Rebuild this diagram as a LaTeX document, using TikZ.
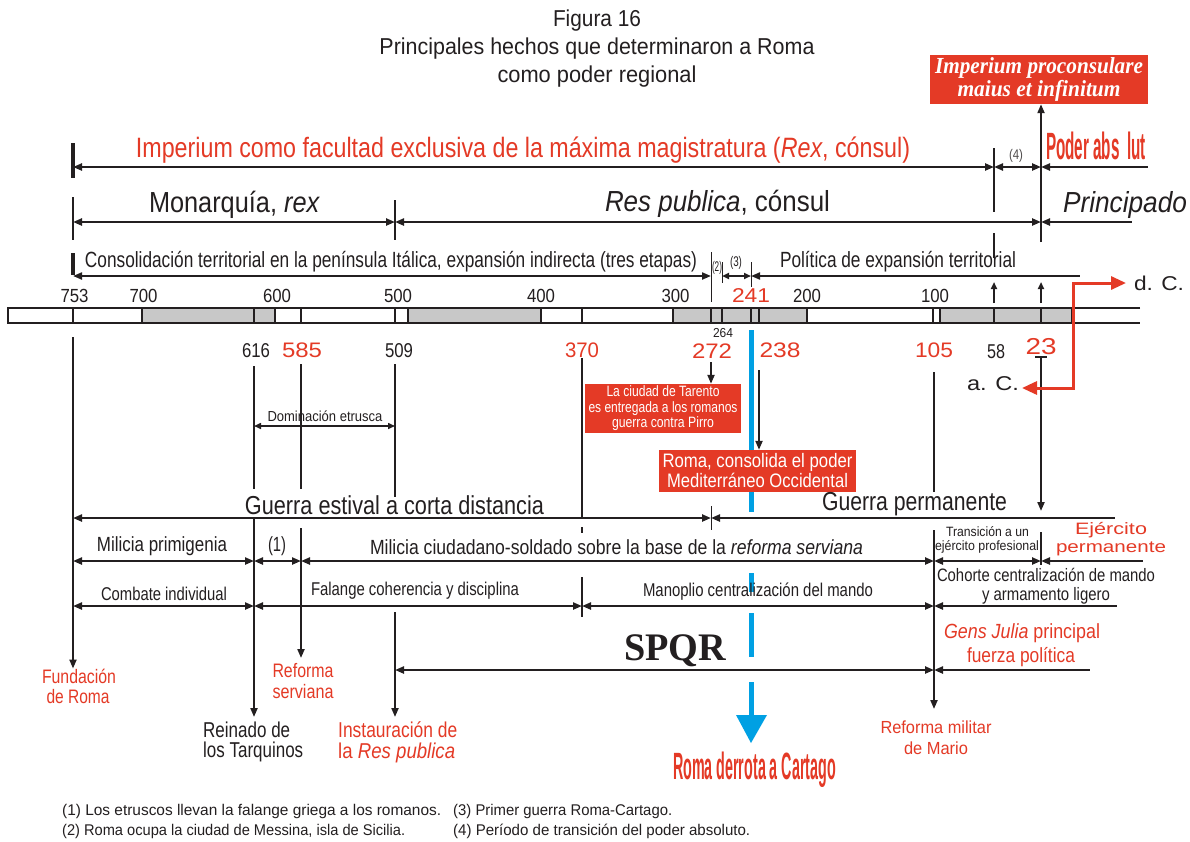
\documentclass[tikz,border=0pt]{standalone}
\usepackage{fontspec}
\usepackage{graphicx}
\setmainfont{Liberation Sans}
\newfontfamily\serfont{Liberation Serif}
\newfontfamily\widefont[FakeStretch=1.25]{Liberation Sans}
\usetikzlibrary{arrows.meta,calc}
\definecolor{rd}{RGB}{228,58,38}
\definecolor{ink}{RGB}{35,31,32}
\definecolor{bl}{RGB}{0,160,227}
\definecolor{gry}{RGB}{200,200,200}
\newcommand\fsz[2]{\fontsize{#1}{#2}\selectfont}
\newcommand\fitw[2]{\resizebox{#1pt}{\height}{#2}}
\begin{document}
\begin{tikzpicture}[x=1pt,y=-1pt,
  hl/.style={draw=ink,line width=2.2pt},
  vl/.style={draw=ink,line width=2pt},
  tn/.style={draw=ink,line width=1.2pt},
  >={Triangle[length=9pt,width=7pt]},
  sm/.style={>={Triangle[length=7pt,width=6pt]}},
  lab/.style={text=ink,inner sep=0pt},
  rl/.style={text=rd,inner sep=0pt},
  redbox/.style={fill=rd,text=white,inner sep=0pt,align=center}]
\useasboundingbox (0,0) rectangle (1190,841);
\fill[white] (0,0) rectangle (1190,841);
% columns and rows
\coordinate (X753) at (73,0);
\coordinate (X616) at (254,0);
\coordinate (X585) at (301,0);
\coordinate (X509) at (395,0);
\coordinate (X370) at (582,0);
\coordinate (X272) at (711,0);
\coordinate (X264) at (722,0);
\coordinate (X241) at (751,0);
\coordinate (X238) at (759,0);
\coordinate (X105) at (934,0);
\coordinate (X58) at (994,0);
\coordinate (X23) at (1041,0);
\coordinate (R1) at (0,167);
\coordinate (R2) at (0,222);
\coordinate (R3) at (0,276);
\coordinate (RD) at (0,426);
\coordinate (RG) at (0,518);
\coordinate (RM) at (0,561);
\coordinate (RC) at (0,606);
\coordinate (RS) at (0,670);
\coordinate (E1) at (1148,167);
\coordinate (E2) at (1132,222);
\coordinate (E3) at (1080,276);
\coordinate (EG) at (1115,518);
\coordinate (EM) at (1143,561);
\coordinate (EC) at (1117,606);
\coordinate (ES) at (1090,670);

% title
\node[lab,font=\fsz{23}{28}] (ti1) at (597,21) {\fitw{88}{Figura 16}};
\node[lab,font=\fsz{23}{28}] (ti2) at (597,49) {\fitw{435}{Principales hechos que determinaron a Roma}};
\node[lab,font=\fsz{23}{28}] (ti3) at (597,77) {\fitw{199}{como poder regional}};

% imperium box
\node[redbox,minimum width=218pt,minimum height=49pt,font=\serfont\bfseries\itshape\fsz{23}{19}] (imp) at (1039,79.5)
  {\fitw{208}{Imperium proconsulare}\\\fitw{163}{maius et infinitum}};
\coordinate (V23b) at (1041,242);
\draw[vl,->] (V23b) -- (X23|-imp.south);

% row 1
\draw[ink,line width=4pt] (73,143) -- (73,178);
\draw[hl,<->] (X753|-R1) -- (X58|-R1);
\draw[hl,<->] (X58|-R1) -- (X23|-R1);
\draw[hl,<-] (X23|-R1) -- (E1);
\draw[tn] (994,148) -- (994,212);
\node[rl,font=\fsz{28}{30}] (r1t) at (523,150) {\fitw{774}{Imperium como facultad exclusiva de la máxima magistratura (\textit{Rex}, cónsul)}};
\node[lab,font=\fsz{14}{15},text=ink!80] (n4) at (1016,156) {\fitw{14}{(4)}};
\node[rl,font=\bfseries\fsz{38}{40}] (pod) at (1096,146) {\fitw{100}{Poder abs\hspace{0.5em}lut}};

% row 2
\draw[ink,line width=2.5pt] (73,197) -- (73,240);
\draw[tn,line width=2pt] (395,200) -- (395,240);
\draw[hl,<->] (X753|-R2) -- (X509|-R2);
\draw[hl,<->] (X509|-R2) -- (X23|-R2);
\draw[hl,<-] (X23|-R2) -- (E2);
\draw[tn] (994,233) -- (994,258);
\node[lab,font=\fsz{29}{30}] (mon) at (234.5,205) {\fitw{171}{Monarquía, \textit{rex}}};
\node[lab,font=\fsz{29}{30}] (res) at (717.5,204) {\fitw{225}{\textit{Res publica}, cónsul}};
\node[lab,font=\itshape\fsz{29}{30}] (pri) at (1125,205) {\fitw{124}{Principado}};

% row 3
\draw[ink,line width=4pt] (73,253) -- (73,275);
\draw[hl,line width=2pt,<->] (X753|-R3) -- (X272|-R3);
\draw[hl,line width=2pt,sm,<->] (X264|-R3) -- (X241|-R3);
\draw[hl,line width=2pt,<-] (X241|-R3) -- (E3);
\draw[tn,line width=1pt] (711,252) -- (711,302);
\draw[tn,line width=1pt] (722,262) -- (722,283);
\draw[tn,line width=1pt] (751,262) -- (751,287);
\node[lab,font=\fsz{22}{22}] (con) at (391,262) {\fitw{612}{Consolidación territorial en la península Itálica, expansión indirecta (tres etapas)}};
\node[lab,font=\fsz{14}{14}] (n2) at (717,268) {\fitw{10}{(2)}};
\node[lab,font=\fsz{14}{14}] (n3) at (736,263) {\fitw{12}{(3)}};
\node[lab,font=\fsz{22}{22}] (pol) at (898,262) {\fitw{236}{Política de expansión territorial}};

% up arrows above bar
\draw[vl,sm,->] (994,303) -- (994,282);
\draw[vl,sm,->] (1041,303) -- (1041,282);

% timeline bar
\draw[ink,line width=1.2pt] (1140,308) -- (8,308) -- (8,323) -- (1140,323);
\foreach \a/\b in {142/275,408/541,673/807,940/1072}
  \draw[ink,line width=1.2pt,fill=gry] (\a,308) rectangle (\b,323);
\foreach \t in {73,254,301,395,582,711,722,751,759,933,994,1041}
  \draw[ink,line width=1.4pt] (\t,308) -- (\t,323);

% year labels
\foreach \t/\x in {753/74.5,700/143.5,600/277,500/398,400/541,300/675.5,200/807,100/935}
  \node[lab,font=\fsz{19}{18}] (y\t) at (\x,296) {\fitw{28}{\t}};
\node[rl,font=\widefont\fsz{20}{20}] (y241) at (751,296) {\fitw{38}{241}};

% below-bar numbers
\node[lab,font=\fsz{20}{20}] (b616) at (256,351) {\fitw{28}{616}};
\node[lab,font=\fsz{20}{20}] (b509) at (399,351) {\fitw{28}{509}};
\node[lab,font=\fsz{20}{20}] (b58) at (996,352) {\fitw{18}{58}};
\node[lab,font=\fsz{13}{14}] (b264) at (723,333) {\fitw{20}{264}};
\node[rl,font=\widefont\fsz{21}{22}] (b585) at (302,350) {\fitw{40}{585}};
\node[rl,font=\widefont\fsz{21}{22}] (b370) at (582,350) {\fitw{34}{370}};
\node[rl,font=\widefont\fsz{21}{22}] (b272) at (712,351) {\fitw{40}{272}};
\node[rl,font=\widefont\fsz{21}{22}] (b238) at (780,350) {\fitw{41}{238}};
\node[rl,font=\widefont\fsz{21}{22}] (b105) at (934,350) {\fitw{38}{105}};
\node[rl,font=\widefont\fsz{23}{24}] (b23) at (1041,347) {\fitw{31}{23}};

% blue line (drawn under boxes)
\draw[bl,line width=5pt] (751,330) -- (751,512);
\draw[bl,line width=5pt] (751,573) -- (751,592);
\draw[bl,line width=5pt] (751,613) -- (751,657);
\draw[bl,line width=5pt] (751,682) -- (751,716);
\fill[bl] (736,715) -- (767,715) -- (751,743) -- cycle;

% boxes
\node[redbox,minimum width=156pt,minimum height=49pt,font=\fsz{15}{15.5}] (tar) at (663,408.5)
  {\fitw{113}{La ciudad de Tarento}\\\fitw{149}{es entregada a los romanos}\\\fitw{102}{guerra contra Pirro}};
\node[redbox,minimum width=197pt,minimum height=42pt,font=\fsz{19.5}{20}] (rom) at (757.5,471)
  {\fitw{190}{Roma, consolida el poder}\\\fitw{181}{Mediterráneo Occidental}};
\draw[vl,->] (711,362) -- (X272|-tar.north);
\draw[vl,->] (759,370) -- (X238|-rom.north);

% bottom labels
\node[rl,font=\fsz{19.5}{21}] (fun1) at (79,676) {\fitw{74}{Fundación}};
\node[rl,font=\fsz{19.5}{21}] (fun2) at (78,697) {\fitw{63}{de Roma}};
\node[rl,font=\fsz{19.5}{21}] (ser1) at (303,671) {\fitw{61}{Reforma}};
\node[rl,font=\fsz{19.5}{21}] (ser2) at (303,692) {\fitw{61}{serviana}};
\node[lab,font=\fsz{21.5}{22},anchor=west] (tar1) at (203,730) {\fitw{87}{Reinado de}};
\node[lab,font=\fsz{21.5}{22},anchor=west] (tar2) at (203,752) {\fitw{100}{los Tarquinos}};
\node[rl,font=\fsz{21.5}{22},anchor=west] (ins1) at (338,730) {\fitw{119}{Instauración de}};
\node[rl,font=\fsz{21.5}{22},anchor=west] (ins2) at (338,753) {\fitw{117}{la \textit{Res publica}}};
\node[rl,font=\fsz{17.5}{18}] (mar1) at (936,727) {\fitw{111}{Reforma militar}};
\node[rl,font=\fsz{17.5}{18}] (mar2) at (936,748) {\fitw{64}{de Mario}};
\node[rl,font=\bfseries\fsz{38}{36}] (car) at (754.5,770) {\fitw{163}{Roma derrota a Cartago}};

% long verticals
\draw[vl,->] (73,337) -- (X753|-fun1.north);
\draw[vl] (254,366) -- (254,489);
\draw[vl,->] (254,518) -- (254,717);
\draw[vl] (301,364) -- (301,489);
\draw[vl,->] (301,528) -- (301,658);
\draw[vl] (395,364) -- (395,497);
\draw[vl,->] (395,612) -- (395,717);
\draw[vl] (582,358) -- (582,518);
\draw[vl] (582,527) -- (582,533);
\draw[vl] (582,577) -- (582,617);
\draw[vl] (934,372) -- (934,492);
\draw[vl,->] (934,530) -- (934,709);
\draw[tn,line width=1.5pt] (1035,357) -- (1047,357);
\draw[vl,->] (1041,357) -- (1041,511);
\draw[vl] (1041,532) -- (1041,565);
\draw[tn,line width=1pt] (711,506) -- (711,530);

% Dominacion etrusca
\draw[hl,line width=1.5pt,sm,<->] (X616|-RD) -- (X509|-RD);
\node[lab,font=\fsz{14.5}{15}] (dom) at (325,416) {\fitw{115}{Dominación etrusca}};

% Guerra row
\draw[hl,<->] (X753|-RG) -- (X272|-RG);
\draw[hl,<-] (X272|-RG) -- (EG);
\node[lab,font=\fsz{26}{26}] (gue) at (394.5,505) {\fitw{299}{Guerra estival a corta distancia}};
\node[lab,font=\fsz{26}{26}] (gup) at (914.5,504) {\fitw{185}{Guerra permanente}};

% Milicia row
\draw[hl,<->] (X753|-RM) -- (X616|-RM);
\draw[hl,<->] (X616|-RM) -- (X585|-RM);
\draw[hl,<->] (X585|-RM) -- (X105|-RM);
\draw[hl,<->] (X105|-RM) -- (X23|-RM);
\draw[hl,<-] (X23|-RM) -- (EM);
\node[lab,font=\fsz{20.5}{21}] (mil1) at (162,546) {\fitw{130}{Milicia primigenia}};
\node[lab,font=\fsz{20.5}{21}] (mil2) at (277,546) {\fitw{18}{(1)}};
\node[lab,font=\fsz{20.5}{21}] (mil3) at (616.5,547) {\fitw{493}{Milicia ciudadano-soldado sobre la base de la \textit{reforma serviana}}};
\node[lab,font=\fsz{13.5}{14}] (tra1) at (987.5,532) {\fitw{83}{Transición a un}};
\node[lab,font=\fsz{13.5}{14}] (tra2) at (987,547) {\fitw{104}{ejército profesional}};
\node[rl,font=\widefont\fsz{16.5}{17}] (eje1) at (1111,530) {\fitw{72}{Ejército}};
\node[rl,font=\widefont\fsz{16.5}{17}] (eje2) at (1111,549) {\fitw{110}{permanente}};

% Combate row
\draw[hl,<->] (X753|-RC) -- (X616|-RC);
\draw[hl,<->] (X616|-RC) -- (X370|-RC);
\draw[hl,<->] (X370|-RC) -- (X105|-RC);
\draw[hl,<-] (X105|-RC) -- (EC);
\node[lab,font=\fsz{18.5}{19}] (com1) at (164,594) {\fitw{126}{Combate individual}};
\node[lab,font=\fsz{18.5}{19}] (com2) at (415,591) {\fitw{208}{Falange coherencia y disciplina}};
\node[lab,font=\fsz{18.5}{19}] (com3) at (758,592) {\fitw{230}{Manoplio centralización del mando}};
\node[lab,font=\fsz{18}{19}] (coh1) at (1046,575) {\fitw{218}{Cohorte centralización de mando}};
\node[lab,font=\fsz{18}{19}] (coh2) at (1046,596) {\fitw{128}{y armamento ligero}};

% SPQR row
\draw[hl,<->] (X509|-RS) -- (X105|-RS);
\draw[hl,<-] (X105|-RS) -- (ES);
\node[lab,font=\serfont\bfseries\fsz{39}{40}] (spq) at (675,651) {\fitw{102}{SPQR}};
\node[rl,font=\fsz{20.5}{21}] (gen1) at (1022,633) {\fitw{156}{\textit{Gens Julia} principal}};
\node[rl,font=\fsz{20.5}{21}] (gen2) at (1021,657) {\fitw{108}{fuerza política}};

% a.C. / d.C.
\node[lab,font=\widefont\fsz{20}{20}] (ac) at (993,384) {\fitw{52}{a. C.}};
\node[lab,font=\widefont\fsz{20}{20}] (dc) at (1159,283) {\fitw{50}{d. C.}};
\coordinate (rA) at (1022,388);
\coordinate (rB) at (1073,388);
\coordinate (rC) at (1073,283);
\coordinate (rD) at (1126,283);
\draw[rd,line width=3pt,line join=miter,{Triangle[length=15pt,width=13pt]}-{Triangle[length=15pt,width=13pt]}] (rA) -- (rB) -- (rC) -- (rD);

% footnotes
\node[lab,font=\fsz{15.5}{16},anchor=west] (f1) at (62,811) {\fitw{379}{(1) Los etruscos llevan la falange griega a los romanos.}};
\node[lab,font=\fsz{15.5}{16},anchor=west] (f2) at (62,831) {\fitw{343}{(2) Roma ocupa la ciudad de Messina, isla de Sicilia.}};
\node[lab,font=\fsz{15.5}{16},anchor=west] (f3) at (453,811) {\fitw{219}{(3) Primer guerra Roma-Cartago.}};
\node[lab,font=\fsz{15.5}{16},anchor=west] (f4) at (453,831) {\fitw{297}{(4) Período de transición del poder absoluto.}};
\end{tikzpicture}
\end{document}
